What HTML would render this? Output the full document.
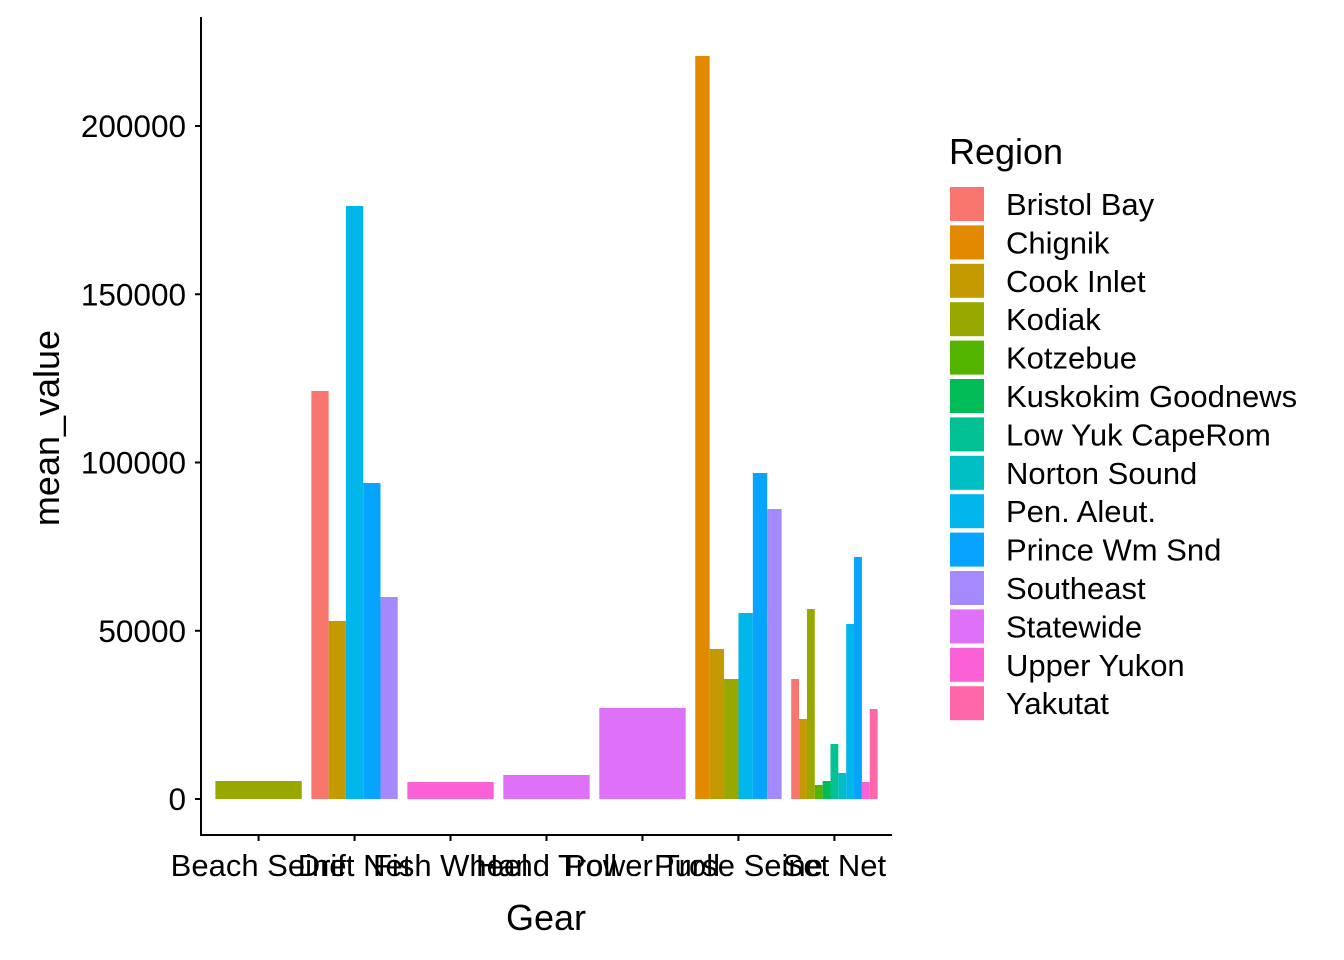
<!DOCTYPE html>
<html><head><meta charset="utf-8"><style>
body{margin:0;background:#fff}
svg{display:block;font-family:"Liberation Sans",Arial,sans-serif}
</style></head><body>
<svg id="chart" width="1344" height="960">
<g id="plot"></g>
<g id="axes"></g>
<g id="legend"></g>
</svg>
<script>
const gears = ["Beach Seine","Drift Net","Fish Wheel","Hand Troll","Power Troll","Purse Seine","Set Net"];
const regions = ["Bristol Bay","Chignik","Cook Inlet","Kodiak","Kotzebue","Kuskokim Goodnews","Low Yuk CapeRom","Norton Sound","Pen. Aleut.","Prince Wm Snd","Southeast","Statewide","Upper Yukon","Yakutat"];
const colors = ["#F8766D","#E38900","#C49A00","#99A800","#53B400","#00BC56","#00C094","#00BFC4","#00B6EB","#06A4FF","#A58AFF","#DF70F8","#FB61D7","#FF66A8"];
const beachSeine = {"Kodiak":5350};
const driftNet = {"Bristol Bay":121250,"Cook Inlet":52900,"Pen. Aleut.":176230,"Prince Wm Snd":93910,"Southeast":60030};
const fishWheel = {"Upper Yukon":5050};
const handTroll = {"Statewide":7130};
const powerTroll = {"Statewide":27040};
const purseSeine = {"Chignik":220800,"Cook Inlet":44580,"Kodiak":35660,"Pen. Aleut.":55270,"Prince Wm Snd":96880,"Southeast":86180};
const setNet = {"Bristol Bay":35660,"Cook Inlet":23770,"Kodiak":56460,"Kotzebue":4160,"Kuskokim Goodnews":5350,"Low Yuk CapeRom":16340,"Norton Sound":7730,"Pen. Aleut.":52000,"Prince Wm Snd":71920,"Upper Yukon":5050,"Yakutat":26750};
const series = [beachSeine,driftNet,fishWheel,handTroll,powerTroll,purseSeine,setNet];
const yTicks = [0,50000,100000,150000,200000];

const NS="http://www.w3.org/2000/svg";
function mk(tag,attrs,parent){const e=document.createElementNS(NS,tag);for(const k in attrs)e.setAttribute(k,attrs[k]);parent.appendChild(e);return e;}
const x0=201,x1=892,yBase=835;
const y=v=>799-v*(673/200000);
const step=(x1-x0)/7.2;
const xc=i=>x0+step*(0.6+i);
const plot=document.getElementById('plot'),axes=document.getElementById('axes'),legend=document.getElementById('legend');

series.forEach((s,i)=>{
  const keys=regions.filter(r=>r in s);
  const gw=step*0.9, bw=gw/keys.length, left=xc(i)-gw/2;
  keys.forEach((r,j)=>{
    const v=s[r];
    const b=mk('rect',{x:left+j*bw,y:y(v),width:bw,height:y(0)-y(v),fill:colors[regions.indexOf(r)]},plot);
    
    
  });
});
let l=mk('line',{x1:x0,y1:17,x2:x0,y2:yBase+0.5,stroke:'#000','stroke-width':2},axes);

l=mk('line',{x1:x0-1,y1:yBase,x2:x1,y2:yBase,stroke:'#000','stroke-width':2},axes);

yTicks.forEach(t=>{
  mk('line',{x1:x0-6,x2:x0,y1:y(t),y2:y(t),stroke:'#000','stroke-width':2},axes);
  const tx=mk('text',{x:x0-15,y:y(t)+11,'text-anchor':'end','font-size':'31.5px',fill:'#000'},axes);
  tx.textContent=t;
  
});
gears.forEach((g,i)=>{
  mk('line',{x1:xc(i),x2:xc(i),y1:yBase,y2:yBase+6,stroke:'#000','stroke-width':2},axes);
  const tx=mk('text',{x:xc(i),y:876,'text-anchor':'middle','font-size':'31px',fill:'#000'},axes);
  tx.textContent=g;
  
});
let t=mk('text',{x:546,y:930,'text-anchor':'middle','font-size':'36px'},axes);t.textContent='Gear';

t=mk('text',{x:59,y:428,'text-anchor':'middle','font-size':'36px',transform:'rotate(-90 59 428)'},axes);t.textContent='mean_value';

t=mk('text',{x:949,y:164,'font-size':'36px'},legend);t.textContent='Region';

regions.forEach((r,i)=>{
  const top=187+i*38.4;
  const k=mk('rect',{x:950,y:top,width:34,height:34,fill:colors[i]},legend);
  
  const tx=mk('text',{x:1006,y:top+28,'font-size':'31px'},legend);tx.textContent=r;
  
});
</script>
</body></html>
